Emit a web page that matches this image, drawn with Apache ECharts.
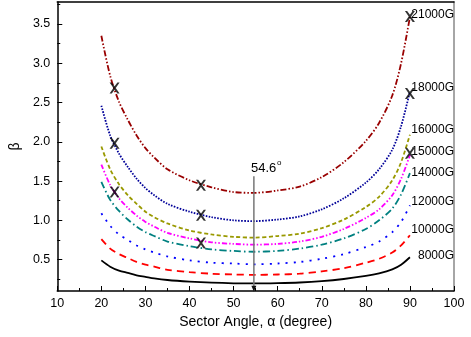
<!DOCTYPE html>
<html>
<head>
<meta charset="utf-8">
<script src="https://cdn.jsdelivr.net/npm/echarts@6/dist/echarts.min.js"></script>
<style>
  html, body { margin: 0; padding: 0; background: #fff; }
  #betaChart { width: 471px; height: 337px; }
</style>
</head>
<body>
<div id="betaChart"></div>
<script>
// sector angle (degree)
var alphas = [20, 22, 24, 26, 28, 30, 32, 35, 40, 45, 50, 54.6, 60, 65, 70, 75, 80, 83, 86, 88, 90];

// beta, one array per field
var beta21000 = [3.35, 2.84, 2.51, 2.28, 2.08, 1.92, 1.80, 1.65, 1.51, 1.42, 1.36, 1.35, 1.38, 1.43, 1.55, 1.74, 2.01, 2.24, 2.59, 3.00, 3.59];
var beta18000 = [2.46, 2.08, 1.85, 1.68, 1.53, 1.41, 1.32, 1.21, 1.11, 1.04, 1.00, 0.99, 1.01, 1.05, 1.14, 1.28, 1.48, 1.65, 1.90, 2.20, 2.64];
var beta16000 = [1.94, 1.65, 1.46, 1.32, 1.21, 1.11, 1.04, 0.96, 0.87, 0.82, 0.79, 0.78, 0.80, 0.83, 0.90, 1.01, 1.17, 1.30, 1.51, 1.74, 2.09];
var beta15000 = [1.71, 1.45, 1.28, 1.16, 1.06, 0.98, 0.92, 0.84, 0.77, 0.72, 0.70, 0.69, 0.70, 0.73, 0.79, 0.89, 1.03, 1.14, 1.32, 1.53, 1.83];
var beta14000 = [1.49, 1.26, 1.12, 1.01, 0.92, 0.85, 0.80, 0.73, 0.67, 0.63, 0.61, 0.60, 0.61, 0.64, 0.69, 0.77, 0.89, 1.00, 1.15, 1.33, 1.60];
var beta12000 = [1.09, 0.93, 0.82, 0.75, 0.68, 0.63, 0.59, 0.54, 0.49, 0.46, 0.45, 0.44, 0.45, 0.47, 0.51, 0.57, 0.66, 0.73, 0.85, 0.98, 1.19];
var beta10000 = [0.76, 0.64, 0.57, 0.52, 0.47, 0.435, 0.41, 0.37, 0.34, 0.32, 0.31, 0.306, 0.31, 0.32, 0.35, 0.39, 0.46, 0.51, 0.59, 0.68, 0.81];
var beta8000 = [0.49, 0.41, 0.36, 0.33, 0.30, 0.28, 0.26, 0.24, 0.22, 0.206, 0.198, 0.196, 0.20, 0.208, 0.225, 0.253, 0.292, 0.325, 0.376, 0.435, 0.53];

var fieldNames = ["21000G", "18000G", "16000G", "15000G", "14000G", "12000G", "10000G", "8000G"];

// measured points (the X marks)
var measured = [
  [23, 2.685], [42.6, 1.448], [90, 3.594],
  [23, 1.98], [42.6, 1.065], [90, 2.616],
  [23, 1.362], [42.6, 0.712], [90, 1.855]
];

var magicAngle = 54.6;

var yMajor = [0.5, 1.0, 1.5, 2.0, 2.5, 3.0, 3.5];
var yMinor = [0.25, 0.75, 1.25, 1.75, 2.25, 2.75, 3.25, 3.75];

var fontName = "'Liberation Sans', Arial, sans-serif";

var curveStyles = [
  { color: "#990000", type: [6, 2, 1.5, 2, 1.5, 2] },
  { color: "#000099", type: [1.6, 1.4] },
  { color: "#999900", type: [4, 2.5] },
  { color: "#ff00ff", type: [5, 2, 1.5, 2, 1.5, 2] },
  { color: "#008080", type: [7, 3, 1.5, 3] },
  { color: "#0000ff", type: [2, 6] },
  { color: "#ff0000", type: [7, 5] },
  { color: "#000000", type: "solid" }
];
var labelY = [16, 89, 131, 153, 174, 203, 231, 257];

function pairs(ys) {
  let out = [];
  for (let i = 0; i < alphas.length; i++) {
    out.push([alphas[i], ys[i]]);
  }
  return out;
}

var allBeta = [beta21000, beta18000, beta16000, beta15000, beta14000, beta12000, beta10000, beta8000];

var seriesData = [];
for (let i = 0; i < allBeta.length; i++) {
  seriesData.push({
    name: fieldNames[i],
    type: "line",
    xAxisIndex: 0,
    yAxisIndex: 0,
    data: pairs(allBeta[i]),
    smooth: 0.3,
    showSymbol: false,
    lineStyle: { color: curveStyles[i].color, type: curveStyles[i].type, width: 1.8 },
    silent: true,
    z: 3
  });
}

seriesData.push({
  name: "measured",
  type: "scatter",
  xAxisIndex: 0,
  yAxisIndex: 0,
  data: measured,
  symbol: "path://M0,0L2.2,0L5,3.4L7.8,0L10,0L6.2,5L10,10L7.8,10L5,6.6L2.2,10L0,10L3.8,5Z",
  symbolSize: [10, 11],
  itemStyle: { color: "#000" },
  z: 5
});

// 54.6 degree marker line with arrow
seriesData.push({
  name: "magic",
  type: "line",
  xAxisIndex: 0,
  yAxisIndex: 0,
  data: [
    { value: [magicAngle, 1.56], symbol: "none" },
    { value: [magicAngle, 0.13], symbol: "triangle", symbolSize: [5, 6], symbolRotate: 180 }
  ],
  showSymbol: true,
  lineStyle: { color: "#777", width: 1.5 },
  itemStyle: { color: "#111" },
  z: 4
});

var graphics = [];
for (let i = 0; i < fieldNames.length; i++) {
  graphics.push({
    type: "text",
    right: 17,
    top: labelY[i] - 7,
    style: { text: fieldNames[i], font: "12px " + fontName, fill: "#000" },
    z: 10
  });
}
graphics.push({
  type: "text",
  left: 251,
  top: 162,
  style: { text: "54.6", font: "13px " + fontName, fill: "#000" },
  z: 10
});
graphics.push({
  type: "text",
  left: 277,
  top: 159,
  style: { text: "o", font: "8px " + fontName, fill: "#000" },
  z: 10
});

var option = {
  animation: false,
  textStyle: { fontFamily: fontName },
  grid: { left: 56, right: 17, top: 2, bottom: 46 },
  xAxis: [
    {
      type: "value",
      position: "bottom",
      min: 10,
      max: 100,
      interval: 10,
      name: "Sector Angle, α (degree)",
      nameLocation: "middle",
      nameGap: 24,
      nameTextStyle: { fontSize: 14, color: "#000", fontFamily: fontName },
      axisLine: { lineStyle: { color: "#000", width: 1.5 } },
      axisTick: { inside: true, length: 5, lineStyle: { color: "#000" } },
      axisLabel: { fontSize: 12.5, color: "#000", margin: 6, fontFamily: fontName },
      splitLine: { show: false }
    },
    {
      type: "value",
      position: "bottom",
      min: 10,
      max: 100,
      interval: 5,
      axisLine: { show: false },
      axisTick: { inside: true, length: 3, lineStyle: { color: "#000" } },
      axisLabel: { show: false },
      splitLine: { show: false }
    },
    {
      type: "value",
      position: "top",
      min: 10,
      max: 100,
      axisLine: { lineStyle: { color: "#000", width: 1.5 } },
      axisTick: { show: false },
      axisLabel: { show: false },
      splitLine: { show: false }
    }
  ],
  yAxis: [
    {
      type: "value",
      position: "left",
      min: 0.1,
      max: 3.78,
      name: "β",
      nameLocation: "middle",
      nameRotate: 90,
      nameGap: 27,
      nameTextStyle: { fontSize: 14, color: "#000", fontFamily: fontName },
      axisLine: { show: true, lineStyle: { color: "#000", width: 1.5 } },
      axisTick: { show: true, inside: true, length: 5, customValues: yMajor, lineStyle: { color: "#000" } },
      axisLabel: {
        customValues: yMajor,
        fontSize: 12.5,
        color: "#000",
        margin: 7,
        fontFamily: fontName,
        formatter: function(v) { return v.toFixed(1); }
      },
      splitLine: { show: false }
    },
    {
      type: "value",
      position: "left",
      min: 0.1,
      max: 3.78,
      axisLine: { show: false },
      axisTick: { show: true, inside: true, length: 3, customValues: yMinor, lineStyle: { color: "#000" } },
      axisLabel: { show: false },
      splitLine: { show: false }
    },
    {
      type: "value",
      position: "right",
      min: 0.1,
      max: 3.78,
      axisLine: { show: true, lineStyle: { color: "#888", width: 1.5 } },
      axisTick: { show: false },
      axisLabel: { show: false },
      splitLine: { show: false }
    }
  ],
  graphic: graphics,
  series: seriesData
};

var myChart = echarts.init(document.getElementById("betaChart"));
myChart.setOption(option);
</script>
</body>
</html>
